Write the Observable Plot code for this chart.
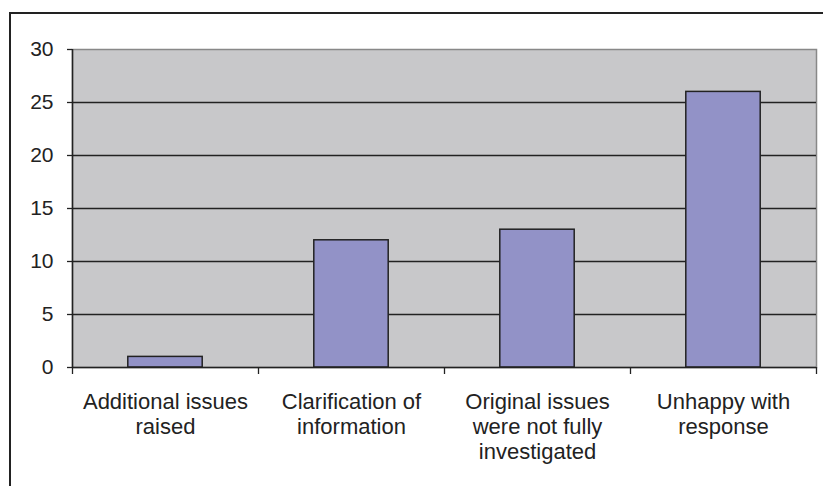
<!DOCTYPE html>
<html><head>
<meta charset="utf-8">
<script src="https://cdn.jsdelivr.net/npm/d3@7"></script>
<script src="https://cdn.jsdelivr.net/npm/@observablehq/plot@0.6"></script>
<style>
body{margin:0;background:#fff;}
#wrap{position:relative;width:823px;height:486px;overflow:hidden;}
#border{position:absolute;left:9px;top:12px;width:840px;height:520px;border:2px solid #222;box-sizing:border-box;}
#chart{position:absolute;left:0;top:0;}
</style></head><body><div id="wrap"><div id="border"></div><div id="chart"></div></div>
<script>
const categories = ["Additional issues\nraised", "Clarification of\ninformation", "Original issues\nwere not fully\ninvestigated", "Unhappy with\nresponse"];
const values = [1, 12, 13, 26];
const yTicks = [0, 5, 10, 15, 20, 25, 30];

const data = categories.map((c, i) => ({category: c, index: i, value: values[i]}));

const chart = Plot.plot({
  width: 823, height: 486,
  marginLeft: 72, marginTop: 49, marginRight: 7, marginBottom: 119,
  style: {fontFamily: "'Liberation Sans', Arial, sans-serif", fontSize: "21px", color: "#222", background: "transparent"},
  x: {domain: [0, categories.length]},
  y: {domain: [0, 30]},
  marks: [
    Plot.frame({fill: "#C8C8CA", stroke: "#888", strokeWidth: 1.5}),
    Plot.ruleY(yTicks.filter(t => t > 0 && t < 30), {stroke: "#222", strokeWidth: 1.3}),
    Plot.rectY(data, {x1: d => d.index + 0.3, x2: d => d.index + 0.7, y: "value", fill: "#9292C7", stroke: "#222", strokeWidth: 1.5}),
    Plot.axisY({ticks: yTicks, tickSize: 5, tickPadding: 14, fontSize: 21, label: null, stroke: "#222", strokeWidth: 1.3}),
    Plot.ruleX([0], {stroke: "#222", strokeWidth: 1.5}),
    Plot.ruleY([0], {stroke: "#222", strokeWidth: 1.5}),
    Plot.axisX({ticks: d3.range(categories.length + 1), tickSize: 7, tickFormat: () => "", label: null, stroke: "#222", strokeWidth: 1.3}),
    Plot.axisX({ticks: categories.map((c, i) => i + 0.5), tickSize: 0, tickPadding: 24, tickFormat: v => categories[Math.floor(v)], fontSize: 22, lineHeight: 1.14, label: null})
  ]
});
document.getElementById("chart").appendChild(chart);
</script>
</body></html>
